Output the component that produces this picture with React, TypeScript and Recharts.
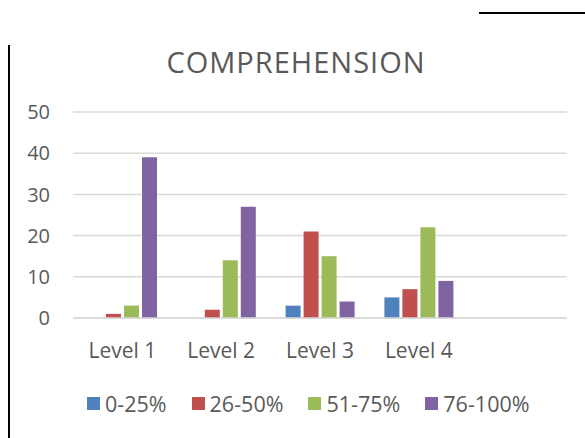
import { BarChart, Bar, XAxis, YAxis, CartesianGrid, Legend } from "recharts";

const levels = ["Level 1", "Level 2", "Level 3", "Level 4", ""];
const band0to25 = [0, 0, 3, 5, null];
const band26to50 = [1, 2, 21, 7, null];
const band51to75 = [3, 14, 15, 22, null];
const band76to100 = [39, 27, 4, 9, null];
const yTicks = [0, 10, 20, 30, 40, 50];

const series = [
  { key: "b1", name: "0-25%", color: "#4F81BD", values: band0to25 },
  { key: "b2", name: "26-50%", color: "#C0504D", values: band26to50 },
  { key: "b3", name: "51-75%", color: "#9BBB59", values: band51to75 },
  { key: "b4", name: "76-100%", color: "#8064A2", values: band76to100 },
];

const data = levels.map((level, i) => {
  const row: Record<string, string | number | null> = { level };
  series.forEach((s) => {
    row[s.key] = s.values[i];
  });
  return row;
});

const textColor = "#595959";
const font = "'Open Sans', sans-serif";

function LegendContent() {
  return (
    <div
      style={{
        display: "flex",
        gap: 25,
        height: 28,
        alignItems: "center",
        fontFamily: font,
        fontSize: 21.5,
        color: textColor,
      }}
    >
      {series.map((s) => (
        <span key={s.key} style={{ display: "flex", alignItems: "center", gap: 5 }}>
          <span style={{ width: 13, height: 13, background: s.color, display: "inline-block" }} />
          {s.name}
        </span>
      ))}
    </div>
  );
}

export default function App() {
  return (
    <div style={{ position: "absolute", left: 0, top: 0, width: 585, height: 438, background: "#fff" }}>
      <div style={{ position: "absolute", left: 8, top: 45, width: 2, height: 393, background: "#000" }} />
      <div style={{ position: "absolute", left: 479, top: 12, width: 106, height: 2, background: "#000" }} />
      <div
        style={{
          position: "absolute",
          left: 0,
          width: 592,
          top: 42,
          textAlign: "center",
          fontFamily: font,
          fontSize: 29,
          letterSpacing: 1,
          color: textColor,
        }}
      >
        COMPREHENSION
      </div>
      <BarChart
        width={585}
        height={438}
        data={data}
        margin={{ top: 112, right: 18, left: 0, bottom: 62 }}
        barSize={15}
        barGap={3}
      >
        <CartesianGrid vertical={false} stroke="#D9D9D9" strokeWidth={1.5} />
        <XAxis
          dataKey="level"
          height={30}
          axisLine={{ stroke: "#D9D9D9", strokeWidth: 1.5 }}
          tickLine={false}
          tickMargin={19}
          tick={{ fill: textColor, fontSize: 21, fontFamily: font }}
          interval={0}
        />
        <YAxis
          width={73}
          domain={[0, 50]}
          ticks={yTicks}
          axisLine={false}
          tickLine={false}
          tickMargin={17}
          tick={{ fill: textColor, fontSize: 20, fontFamily: font }}
        />
        <Legend
          content={<LegendContent />}
          wrapperStyle={{ position: "absolute", left: 87, top: 389, width: 480, height: 28 }}
        />
        {series.map((s) => (
          <Bar key={s.key} dataKey={s.key} name={s.name} fill={s.color} isAnimationActive={false} />
        ))}
      </BarChart>
    </div>
  );
}
